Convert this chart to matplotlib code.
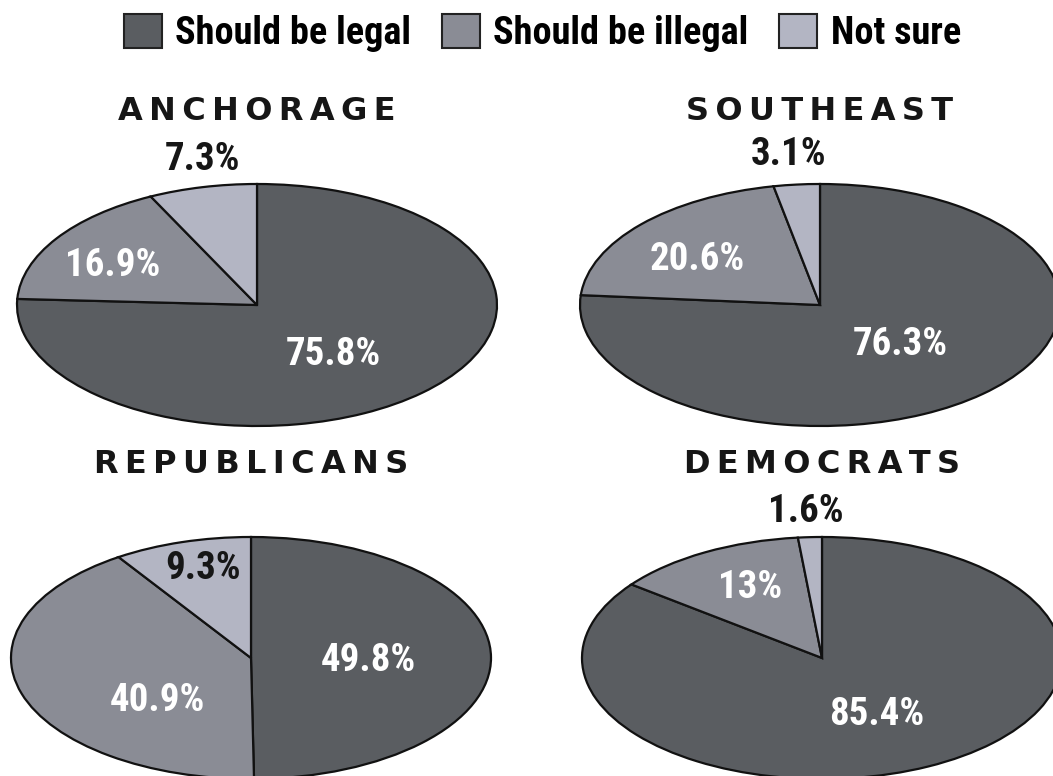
import os
import matplotlib
matplotlib.use('Agg')
import matplotlib.pyplot as plt
from matplotlib import font_manager
from matplotlib.font_manager import FontProperties
from matplotlib.patches import Patch

# 数据
categories = ['Should be legal', 'Should be illegal', 'Not sure']
groups = ['ANCHORAGE', 'SOUTHEAST', 'REPUBLICANS', 'DEMOCRATS']
legal = [75.8, 76.3, 49.8, 85.4]
illegal = [16.9, 20.6, 40.9, 13.0]
not_sure = [7.3, 3.1, 9.3, 1.6]

colors = ['#5a5d61', '#8a8c95', '#b3b5c3']

# 画布尺寸 (像素)
W, H = 1053, 776

# 每个椭圆的中心和半径 (像素)
centres = [(257, 305), (820, 305), (251, 658), (822, 658)]
rx, ry = 240, 121

# 标签位置 (饼图单位): legal, illegal, not sure
label_pos = [
    [(0.32, -0.41), (-0.60, 0.33), (-0.225, 1.20)],
    [(0.335, -0.33), (-0.51, 0.375), (-0.13, 1.24)],
    [(0.49, -0.02), (-0.39, -0.35), (-0.20, 0.74)],
    [(0.23, -0.47), (-0.30, 0.58), (-0.067, 1.21)],
]
label_col = ['white', 'white', '#161616']

# 找一个窄体粗字体
files = {os.path.basename(f.fname).lower(): f.fname for f in font_manager.fontManager.ttflist}
wanted = ['liberationsansnarrow-bold.ttf', 'robotocondensed-bold.ttf',
          'dejavusanscondensed-bold.ttf', 'notosans-condensedbold.ttf',
          'opensans-condensedbold.ttf', 'opensans_condensed-bold.ttf']
narrow_file = None
for w in wanted:
    if w in files:
        narrow_file = files[w]
        break


def nfont(size):
    if narrow_file:
        scale = 0.93 if 'dejavu' in narrow_file.lower() else 1.0
        return FontProperties(fname=narrow_file, size=size * scale)
    return FontProperties(family='Roboto', weight='bold', size=size * 0.85)


fig = plt.figure(figsize=(W / 100, H / 100), dpi=100)

for i, g in enumerate(groups):
    cx, cy = centres[i]
    ax = fig.add_axes([(cx - rx) / W, 1 - (cy + ry) / H, 2 * rx / W, 2 * ry / H])
    vals = [legal[i], illegal[i], not_sure[i]]
    wedges, _ = ax.pie(vals, colors=colors, startangle=90, counterclock=False,
                       wedgeprops=dict(edgecolor='#111111', linewidth=1.6))
    for w in wedges:
        w.set_clip_on(False)
    ax.set_aspect('auto')
    ax.set_xlim(-1, 1)
    ax.set_ylim(-1, 1)
    ax.axis('off')

    for v, (dx, dy), c in zip(vals, label_pos[i], label_col):
        ax.text(dx, dy, f'{v:g}%', ha='center', va='center', color=c,
                fontproperties=nfont(28), clip_on=False)

    # 标题 (字母间加细空格)
    ax.text(0, 1.6, '\u2009'.join(g), ha='center', va='center', color='#161616',
            fontsize=23, fontweight='bold', family='DejaVu Sans', clip_on=False)

# 图例
handles = [Patch(facecolor=c, edgecolor='#222222', linewidth=1.5) for c in colors]
fig.legend(handles, categories, loc='center', bbox_to_anchor=(0.515, 0.958),
           ncol=3, frameon=False, handlelength=1.0, handleheight=1.0,
           handletextpad=0.35, columnspacing=0.8, prop=nfont(27.5))

plt.savefig('out.png', dpi=100)
